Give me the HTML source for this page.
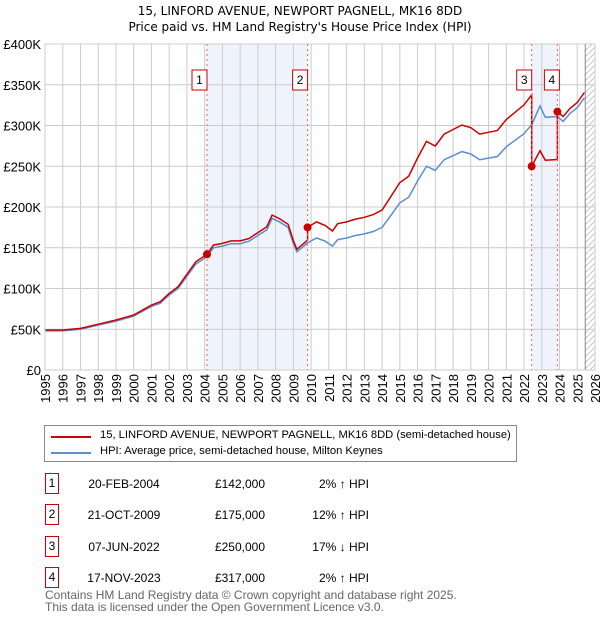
<!DOCTYPE html>
<html><head><meta charset="utf-8"><style>
body{margin:0;background:#fff;font-family:"Liberation Sans","DejaVu Sans",sans-serif;}
#wrap{position:relative;width:600px;height:620px;overflow:hidden}
.t{position:absolute;font-size:12px;color:#000;white-space:nowrap}
</style></head><body><div id="wrap">
<div class="t" style="left:0;width:600px;text-align:center;top:3px;font-size:12px;line-height:16px;font-family:'DejaVu Sans',sans-serif">15, LINFORD AVENUE, NEWPORT PAGNELL, MK16 8DD<br>Price paid vs. HM Land Registry's House Price Index (HPI)</div>
<svg id="chart" width="600" height="420" style="position:absolute;left:0;top:0"></svg>
<div style="position:absolute;left:44px;top:425px;width:473px;height:37px;border:1px solid #888;box-sizing:border-box">
<div><span style="position:absolute;left:6px;top:10px;width:40px;height:2px;background:#cc0000"></span><span class="t" style="left:55px;top:3px;font-size:11.2px">15, LINFORD AVENUE, NEWPORT PAGNELL, MK16 8DD (semi-detached house)</span></div>
<div><span style="position:absolute;left:6px;top:26px;width:40px;height:2px;background:#5b8fd0"></span><span class="t" style="left:55px;top:19px;font-size:11.2px">HPI: Average price, semi-detached house, Milton Keynes</span></div>
</div>
<div id="table"></div>
<div class="t" style="left:45px;top:589px;color:#666;line-height:12px">Contains HM Land Registry data © Crown copyright and database right 2025.<br>This data is licensed under the Open Government Licence v3.0.</div>
</div>
<script>
const hpiYears=[1995,1996,1997,1998,1999,2000,2001,2001.5,2002,2002.5,2003,2003.5,2004.13,2004.5,2005,2005.5,2006,2006.5,2007,2007.5,2007.8,2008.2,2008.7,2009,2009.2,2009.8,2010.3,2010.8,2011.2,2011.5,2012,2012.5,2013,2013.5,2014,2014.5,2015,2015.5,2016,2016.5,2017,2017.5,2018,2018.5,2019,2019.5,2020,2020.5,2021,2021.5,2022,2022.43,2022.9,2023.2,2023.88,2024.2,2024.6,2025,2025.4];
const hpiValues=[48,48,50,55,60,66,78,82,92,100,115,130,139,150,152,155,155,158,165,172,186,182,175,155,145,156,162,158,152,160,162,165,167,170,175,190,205,212,232,250,245,258,263,268,265,258,260,262,274,282,290,301,324,310,311,305,315,322,334];
const saleYears=[2004.13,2009.8,2022.43,2023.88];
const salePrices=[142,175,250,317];
const saleDates=["20-FEB-2004","21-OCT-2009","07-JUN-2022","17-NOV-2023"];
const salePct=["2% \u2191 HPI","12% \u2191 HPI","17% \u2193 HPI","2% \u2191 HPI"];
const yTicks=[0,50,100,150,200,250,300,350,400];
const xTicks=[1995,1996,1997,1998,1999,2000,2001,2002,2003,2004,2005,2006,2007,2008,2009,2010,2011,2012,2013,2014,2015,2016,2017,2018,2019,2020,2021,2022,2023,2024,2025,2026];
const L=45,R=595,T=44,B=370;
const X=y=>L+(y-1995)/31*(R-L), Y=v=>B-v/400*(B-T);
const svg=document.getElementById('chart'),NS='http://www.w3.org/2000/svg';
function mk(t,a,p){const e=document.createElementNS(NS,t);for(const k in a)e.setAttribute(k,a[k]);(p||svg).appendChild(e);return e;}
function hpiAt(y){for(let i=1;i<hpiYears.length;i++){if(y<=hpiYears[i]){const f=(y-hpiYears[i-1])/(hpiYears[i]-hpiYears[i-1]);return hpiValues[i-1]+f*(hpiValues[i]-hpiValues[i-1]);}}return hpiValues[hpiValues.length-1];}
let s;
s=mk('rect',{x:X(saleYears[0]),y:T,width:X(saleYears[1])-X(saleYears[0]),height:B-T,fill:'#eef3fc'});


s=mk('rect',{x:X(saleYears[2]),y:T,width:X(saleYears[3])-X(saleYears[2]),height:B-T,fill:'#eef3fc'});


const defs=mk('defs',{});const pat=mk('pattern',{id:'h',width:6,height:6,patternUnits:'userSpaceOnUse'},defs);mk('path',{d:'M0,6L6,0',stroke:'#bbb','stroke-width':0.8},pat);
s=mk('rect',{x:X(2025.45),y:T,width:R-X(2025.45),height:B-T,fill:'url(#h)'});


yTicks.forEach(v=>{const g=mk('line',{x1:L,x2:R,y1:Y(v),y2:Y(v),stroke:'#ccc'});


const t=mk('text',{x:L-4,y:Y(v)+5,'text-anchor':'end','font-size':13,fill:'#000'});t.textContent=v?'£'+v+'K':'£0';

});
xTicks.forEach(y=>{const g=mk('line',{x1:X(y),x2:X(y),y1:T,y2:B,stroke:'#ccc'});


const t=mk('text',{transform:`translate(${X(y)+5},${B+4}) rotate(-90)`,'text-anchor':'end','font-size':13,fill:'#000'});t.textContent=y;

});
s=mk('line',{x1:X(2025.45),x2:X(2025.45),y1:T,y2:B,stroke:'#888'});


let d='';hpiYears.forEach((y,i)=>{d+=(i?'L':'M')+X(y).toFixed(1)+','+Y(hpiValues[i]).toFixed(1);});
s=mk('path',{d,fill:'none',stroke:'#5b8fd0','stroke-width':1.5});


const ratios=saleYears.map((y,i)=>salePrices[i]/hpiAt(y));
d='';let first=true;
const pts=hpiYears.slice();saleYears.forEach(y=>{if(pts.indexOf(y)<0)pts.push(y);});pts.sort((a,b)=>a-b);
pts.forEach(y=>{let k=0;for(let i=0;i<saleYears.length;i++)if(y>=saleYears[i])k=i;
 const isSale=saleYears.indexOf(y);
 if(isSale>0){const prev=ratios[isSale-1]*hpiAt(y);d+='L'+X(y).toFixed(1)+','+Y(prev).toFixed(1);}
 const v=ratios[k]*hpiAt(y);d+=(first?'M':'L')+X(y).toFixed(1)+','+Y(v).toFixed(1);first=false;});
s=mk('path',{d,fill:'none',stroke:'#cc0000','stroke-width':1.5});


mk('rect',{x:L,y:T,width:R-L,height:B-T,fill:'none',stroke:'#ccc'});
saleYears.forEach((y,i)=>{const ln=mk('line',{x1:X(y),x2:X(y),y1:T,y2:B,stroke:'#f06060','stroke-dasharray':'2,3'});


const c=mk('circle',{cx:X(y),cy:Y(salePrices[i]),r:4,fill:'#cc0000'});


const bx=(i<3?X(y)-15:X(y)-13);
const r=mk('rect',{x:bx.toFixed(1),y:70,width:15,height:20,fill:'#fff',stroke:'#cc0000'});


const t=mk('text',{x:bx+7.5,y:84,'text-anchor':'middle','font-size':12});t.textContent=i+1;

});
const tb=document.getElementById('table');const rowY=[484,515,547,578];
saleDates.forEach((dt,i)=>{const row=document.createElement('div');


row.innerHTML=`<div style="position:absolute;left:45px;top:${rowY[i]-11}px;width:14px;height:21px;border:1px solid #cc0000;box-sizing:border-box;font-size:12px;text-align:center;line-height:19px">${i+1}</div>
<div class="t" style="left:84px;width:80px;text-align:center;top:${rowY[i]-7}px">${dt}</div>
<div class="t" style="left:185px;width:80px;text-align:right;top:${rowY[i]-7}px">£${salePrices[i]},000</div>
<div class="t" style="left:289px;width:80px;text-align:right;top:${rowY[i]-7}px">${salePct[i]}</div>`;
tb.appendChild(row);});
</script></body></html>
